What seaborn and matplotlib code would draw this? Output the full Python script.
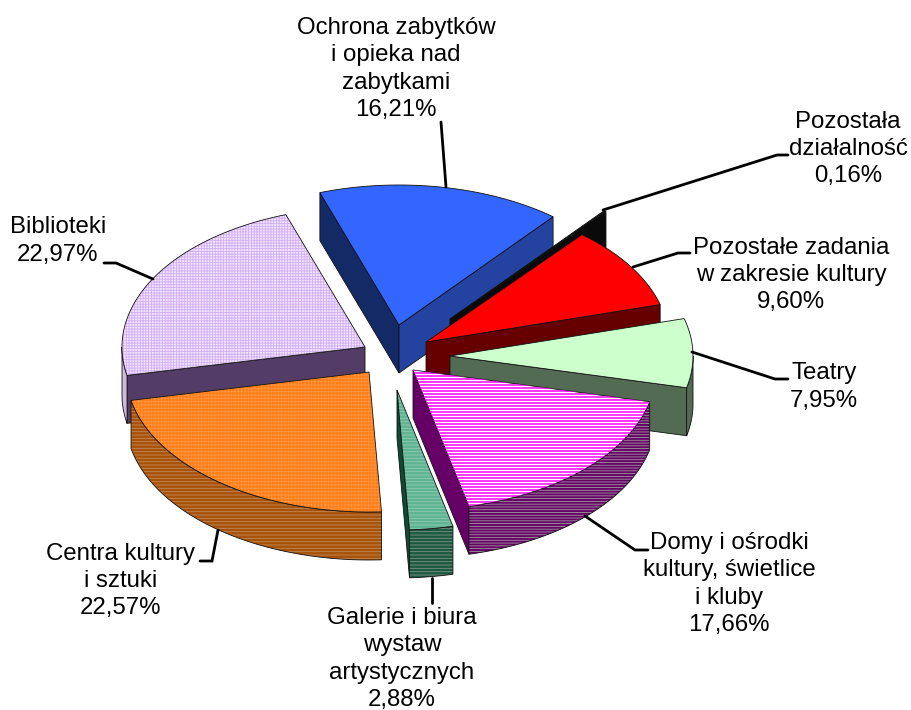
import numpy as np
import matplotlib
matplotlib.use("Agg")
import matplotlib.pyplot as plt
from matplotlib.patches import Polygon
import seaborn as sns
import pandas as pd

# data
labels = ["Ochrona zabytków\ni opieka nad\nzabytkami", "Pozostała\ndziałalność",
          "Pozostałe zadania\nw zakresie kultury", "Teatry",
          "Domy i ośrodki\nkultury, świetlice\ni kluby", "Galerie i biura\nwystaw\nartystycznych",
          "Centra kultury\ni sztuki", "Biblioteki"]
values = [16.21, 0.16, 9.60, 7.95, 17.66, 2.88, 22.57, 22.97]
df = pd.DataFrame({"label": labels, "value": values})

# slice styles, same order as values
top_colors = ["#3366ff", "#0a0a0a", "#ff0000", "#ccffcc", "#ffffff", "#5fb592", "#ff7d14", "#f3e6ff"]
top_hatch = [None, None, None, None, "stripes", "-----", "+++++", "++++++"]
top_hatch_colors = [None, None, None, None, "#ff00ff", "#8fcbb2", "#ff9440", "#d2aef2"]
rim_colors = ["#2443a0", "#0a0a0a", "#660000", "#536b53", "#660066", "#1b5a40", "#a85208", "#cdb8e0"]
rim_hatch = [None, None, None, None, "------", "-----", "-----", None]
rim_hatch_colors = [None, None, None, None, "#a09aa0", "#7d9488", "#c08a58", None]
start_face = ["#142a66", "#0a0a0a", "#660000", "#536b53", "#660066", "#0f4a33", "#a84e00", "#533d66"]
end_face = ["#2443a0", "#0a0a0a", "#660000", "#536b53", "#660066", "#0f4a33", "#a84e00", "#533d66"]
# explode of each slice from the pie centre, in pixels
pull_x = [-6, 45, 21, 45, 8, -8, -36, -40]
pull_y = [-24, -30, -7, 7, 21, 41, 23, -2]
draw_order = [0, 1, 2, 7, 3, 6, 4, 5]

# layout
cx, cy = 405, 349
rx, ry = 243, 140
depth = 48
start_angle = -19

label_x = [396, 848, 791, 824, 729, 402, 121, 58]
label_y = [69, 149, 275, 387, 584, 659, 581, 241]
leader_x = [[441, 446], [603, 777, 788], [633, 678, 690], [692, 775, 788],
            [585, 635, 648], [432, 432], [218, 212, 200], [153, 116, 104]]
leader_y = [[122, 187], [210, 155, 155], [267, 253, 253], [352, 379, 379],
            [516, 550, 550], [578, 603], [530, 561, 561], [279, 263, 263]]

sns.set_theme(style="white")
plt.rcParams["font.family"] = ["Liberation Sans", "DejaVu Sans"]
plt.rcParams["hatch.linewidth"] = 0.6

fig, ax = plt.subplots(figsize=(9.12, 7.10), dpi=100)
ax.set_position([0, 0, 1, 1])
ax.set_xlim(0, 912)
ax.set_ylim(710, 0)
ax.axis("off")


def arc(x0, y0, a, b):
    t = np.radians(np.linspace(a, b, max(int(abs(b - a) * 2), 2)))
    return np.column_stack([x0 + rx * np.sin(t), y0 - ry * np.cos(t)])


def draw(pts, color, hatch=None, hatch_color=None):
    if hatch == "stripes":
        # the plain hatch is too thin for the magenta stripes
        base = Polygon(pts, closed=True, facecolor=color, edgecolor="none")
        ax.add_patch(base)
        lines = ax.hlines(np.arange(pts[:, 1].min(), pts[:, 1].max(), 3), pts[:, 0].min(), pts[:, 0].max(),
                          color=hatch_color, lw=1.1)
        lines.set_clip_path(base)
    elif hatch:
        ax.add_patch(Polygon(pts, closed=True, facecolor=color, edgecolor=hatch_color, hatch=hatch, lw=0))
    else:
        ax.add_patch(Polygon(pts, closed=True, facecolor=color, edgecolor="none"))
    ax.add_patch(Polygon(pts, closed=True, fill=False, edgecolor="#111111", lw=0.6))


angles = start_angle + np.cumsum([0] + list(df["value"] * 3.6))

for i in draw_order:
    a, b = angles[i], angles[i + 1]
    x0, y0 = cx + pull_x[i], cy + pull_y[i]
    apex = np.array([[x0, y0]])
    down = np.array([0, depth])
    # cut faces that look at the viewer
    if np.sin(np.radians(a)) < 0:
        p = arc(x0, y0, a, a)[:1]
        draw(np.vstack([apex, p, p + down, apex + down]), start_face[i])
    if np.sin(np.radians(b)) > 0:
        p = arc(x0, y0, b, b)[:1]
        draw(np.vstack([apex, p, p + down, apex + down]), end_face[i])
    # outer rim, front half only
    lo, hi = max(a, 90), min(b, 270)
    if hi > lo:
        r = arc(x0, y0, lo, hi)
        draw(np.vstack([r, (r + down)[::-1]]), rim_colors[i], rim_hatch[i], rim_hatch_colors[i])
    # top
    draw(np.vstack([apex, arc(x0, y0, a, b)]), top_colors[i], top_hatch[i], top_hatch_colors[i])

for i, row in df.iterrows():
    ax.plot(leader_x[i], leader_y[i], color="black", lw=2.0, solid_joinstyle="miter")
    ax.text(label_x[i], label_y[i], f"{row['label']}\n{row['value']:.2f}%".replace(".", ","),
            ha="center", va="center", fontsize=17.3, color="black", linespacing=1.3)

fig.savefig("out.png", dpi=100)
